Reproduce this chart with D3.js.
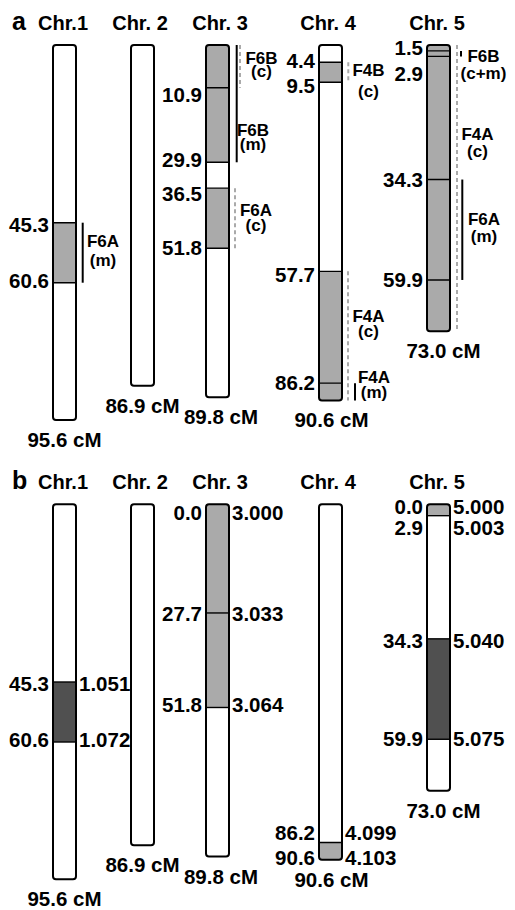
<!DOCTYPE html>
<html>
<head>
<meta charset="utf-8">
<script src="https://cdn.jsdelivr.net/npm/d3@7"></script>
<style>
  body { margin: 0; background: #fff; }
  text { font-family: "Liberation Sans", Arial, sans-serif; font-weight: bold; fill: #000; }
</style>
</head>
<body>
<div id="chart"></div>
<script>
// chromosomes and their lengths (cM)
const chromNames = ["Chr.1", "Chr. 2", "Chr. 3", "Chr. 4", "Chr. 5"];
const chromLengths = [95.6, 86.9, 89.8, 90.6, 73.0];

// panel a: shaded blocks [chr, from, to]
const blocksA = [[0, 45.3, 60.6], [2, 0, 29.9], [2, 36.5, 51.8], [3, 4.4, 9.5], [3, 57.7, 90.6], [4, 0, 73.0]];
// panel a: marker positions (cM)
const markersA = [[0, 45.3], [0, 60.6], [2, 10.9], [2, 29.9], [2, 36.5], [2, 51.8],
                  [3, 4.4], [3, 9.5], [3, 57.7], [3, 86.2], [4, 1.5], [4, 2.9], [4, 34.3], [4, 59.9]];
// panel a: QTL intervals (c = dashed, m = solid)
const qtlA = [
  { chr: 0, from: 45.3, to: 60.6, name: "F6A", tag: "(m)", kind: "m" },
  { chr: 2, from: 0, to: 10.9, name: "F6B", tag: "(c)", kind: "c" },
  { chr: 2, from: 0, to: 29.9, name: "F6B", tag: "(m)", kind: "m" },
  { chr: 2, from: 36.5, to: 51.8, name: "F6A", tag: "(c)", kind: "c" },
  { chr: 3, from: 4.4, to: 9.5, name: "F4B", tag: "(c)", kind: "c" },
  { chr: 3, from: 57.7, to: 90.6, name: "F4A", tag: "(c)", kind: "c" },
  { chr: 3, from: 86.2, to: 90.6, name: "F4A", tag: "(m)", kind: "m" },
  { chr: 4, from: 1.5, to: 2.9, name: "F6B", tag: "(c+m)", kind: "m" },
  { chr: 4, from: 0, to: 73.0, name: "F4A", tag: "(c)", kind: "c" },
  { chr: 4, from: 34.3, to: 59.9, name: "F6A", tag: "(m)", kind: "m" }
];

// panel b: blocks [chr, from, to, tone]
const blocksB = [[0, 45.3, 60.6, "dark"], [2, 0, 51.8, "light"], [3, 86.2, 90.6, "light"],
                 [4, 0, 2.9, "light"], [4, 34.3, 59.9, "dark"]];
// panel b: markers [chr, cM, physical position]
const markersB = [[0, 45.3, 1.051], [0, 60.6, 1.072], [2, 0.0, 3.000], [2, 27.7, 3.033], [2, 51.8, 3.064],
                  [3, 86.2, 4.099], [3, 90.6, 4.103], [4, 0.0, 5.000], [4, 2.9, 5.003], [4, 34.3, 5.040], [4, 59.9, 5.075]];

// ---- layout ----
const W = 515, H = 910;
const barW = 23;
const fills = { light: "#aaaaaa", dark: "#505050" };
const xCenter = d3.scaleOrdinal().domain(d3.range(5)).range([64.5, 142.5, 217.5, 330.5, 438.5]);
const titleShift = [-1.5, -2.5, 2.5, -2.5, -1.5];
const lenShift = [0, 0, 3.5, 1, 5];
// label vertical nudges (keyed chr:cM)
const shiftA = { "0:45.3": 2, "0:60.6": -2, "2:10.9": 7.5, "2:29.9": -2, "2:36.5": 6, "2:51.8": 0,
                 "3:4.4": -1, "3:9.5": 4, "3:57.7": 4, "3:86.2": 0, "4:1.5": -3, "4:2.9": 18, "4:34.3": 0, "4:59.9": 0 };
const shiftB = { "0:45.3": 2, "0:60.6": -2, "2:0": 9, "2:27.7": 1, "2:51.8": -2.5,
                 "3:86.2": -9, "3:90.6": -1.5, "4:0": 2.4, "4:2.9": 12, "4:34.3": 2, "4:59.9": 0 };
// qtl layout: [line dx, text dx, name dy, tag dy] relative to bar right / y(from)
const qtlLayout = [[6.7, 27, 24, 43.5], [11, 32.5, 19, 31.5], [7.7, 24, 91, 104.5], [6, 27, 28, 43],
                   [6.3, 26.5, 13.7, 35], [6, 26.5, 50.4, 66], [13, 32, 0, 15],
                   [11, 33.5, 10.8, 28], [7, 27.5, 95, 112], [12.3, 34, 45.5, 62]];

const svg = d3.select("#chart").append("svg")
    .attr("width", W)
    .attr("height", H);

const fmt1 = d3.format(".1f");
const fmt3 = d3.format(".3f");

function drawPanel(letter, top, blocks, markers, shifts, id) {
    const y = d3.scaleLinear().domain([0, 95.6]).range([top, top + 375]);
    const g = svg.append("g");

    g.append("text").attr("x", 12).attr("y", top - 15)
        .style("font-size", "25px").text(letter);

    chromNames.forEach((name, i) => {
        const cx = xCenter(i), x0 = cx - barW / 2;
        const len = chromLengths[i];
        const clipId = `clip-${id}-${i}`;

        g.append("clipPath").attr("id", clipId)
          .append("rect")
            .attr("x", x0).attr("y", y(0))
            .attr("width", barW).attr("height", y(len) - y(0))
            .attr("rx", 3);

        g.append("text")
            .attr("x", cx + titleShift[i]).attr("y", top - 15)
            .attr("text-anchor", "middle")
            .style("font-size", "20px")
            .text(name);

        const bar = g.append("g").attr("clip-path", `url(#${clipId})`);
        bar.append("rect")
            .attr("x", x0).attr("y", y(0))
            .attr("width", barW).attr("height", y(len) - y(0))
            .attr("fill", "#fff");

        bar.selectAll("rect.blk")
            .data(blocks.filter(b => b[0] === i))
            .enter().append("rect")
            .attr("class", "blk")
            .attr("x", x0).attr("y", d => y(d[1]))
            .attr("width", barW).attr("height", d => y(d[2]) - y(d[1]))
            .attr("fill", d => fills[d[3] || "light"]);

        const mk = markers.filter(m => m[0] === i);
        bar.selectAll("line")
            .data(mk.filter(m => m[1] > 0 && m[1] < len))
            .enter().append("line")
            .attr("x1", x0).attr("x2", x0 + barW)
            .attr("y1", d => y(d[1])).attr("y2", d => y(d[1]))
            .attr("stroke", "#000").attr("stroke-width", 1.4);

        g.append("rect")
            .attr("x", x0).attr("y", y(0))
            .attr("width", barW).attr("height", y(len) - y(0))
            .attr("rx", 3)
            .attr("fill", "none").attr("stroke", "#000").attr("stroke-width", 2);

        // left cM labels
        g.selectAll(null)
            .data(mk)
            .enter().append("text")
            .attr("x", x0 - 4)
            .attr("y", d => y(d[1]) + 7 + (shifts[`${d[0]}:${d[1]}`] || 0))
            .attr("text-anchor", "end")
            .style("font-size", "20.5px")
            .text(d => fmt1(d[1]));

        // right physical labels (panel b)
        g.selectAll(null)
            .data(mk.filter(d => d[2] !== undefined))
            .enter().append("text")
            .attr("x", x0 + barW + 3)
            .attr("y", d => y(d[1]) + 7 + (shifts[`${d[0]}:${d[1]}`] || 0))
            .style("font-size", "20.5px")
            .text(d => fmt3(d[2]));

        // length label
        g.append("text")
            .attr("x", cx + lenShift[i]).attr("y", y(len) + 27)
            .attr("text-anchor", "middle")
            .style("font-size", "20.5px")
            .text(fmt1(len) + " cM");
    });
    return y;
}

const yA = drawPanel("a", 45, blocksA, markersA, shiftA, "a");
drawPanel("b", 504.3, blocksB, markersB, shiftB, "b");

// QTL intervals for panel a
const qg = svg.append("g");
qtlA.forEach((q, k) => {
    const [ldx, tdx, dy1, dy2] = qtlLayout[k];
    const right = xCenter(q.chr) + barW / 2;
    qg.append("line")
        .attr("x1", right + ldx).attr("x2", right + ldx)
        .attr("y1", yA(q.from)).attr("y2", yA(q.to))
        .attr("stroke", q.kind === "c" ? "#aaaaaa" : "#000")
        .attr("stroke-width", 2)
        .attr("stroke-dasharray", q.kind === "c" ? "4,3" : null);
    qg.append("text")
        .attr("x", right + tdx).attr("y", yA(q.from) + dy1)
        .attr("text-anchor", "middle")
        .style("font-size", "17px")
        .text(q.name);
    qg.append("text")
        .attr("x", right + tdx).attr("y", yA(q.from) + dy2)
        .attr("text-anchor", "middle")
        .style("font-size", "17px")
        .text(q.tag);
});
</script>
</body>
</html>
